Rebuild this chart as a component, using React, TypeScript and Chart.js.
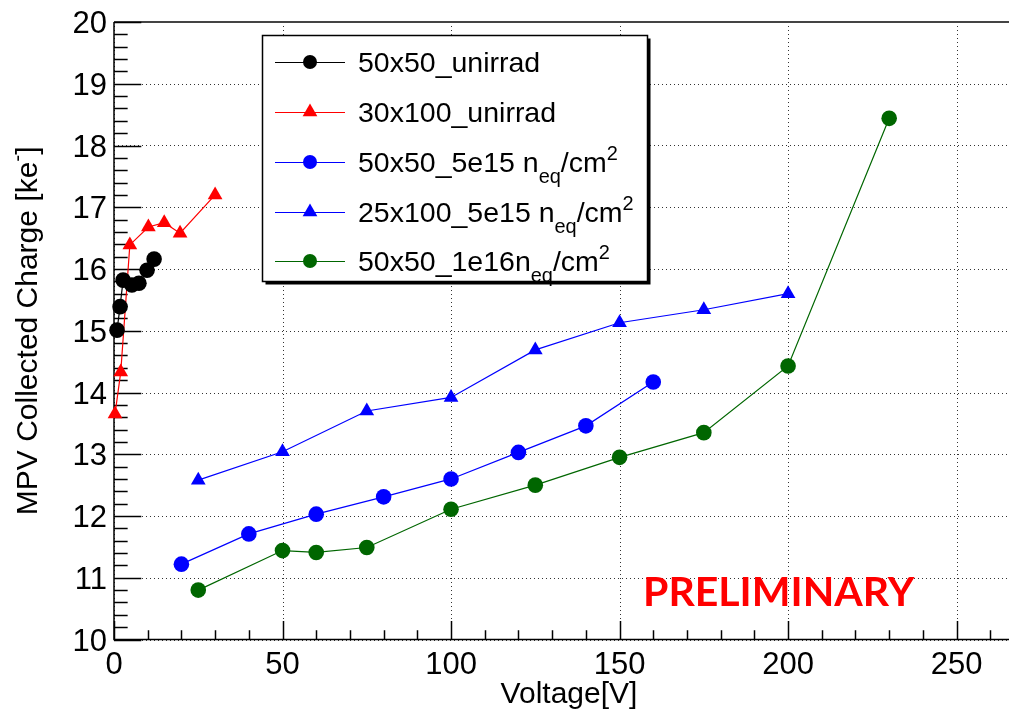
import React, { useEffect, useRef } from 'react';
import { Chart, registerables } from 'chart.js';

Chart.register(...registerables);

// ---------- data ----------
const V_50x50_UNIRRAD = [0.9, 1.8, 2.7, 5.3, 7.4, 9.8, 11.9];
const Q_50x50_UNIRRAD = [15.01, 15.39, 15.82, 15.74, 15.77, 15.98, 16.16];

const V_30x100_UNIRRAD = [0.3, 2, 4.7, 10.2, 14.9, 19.6, 30];
const Q_30x100_UNIRRAD = [13.65, 14.33, 16.39, 16.68, 16.75, 16.58, 17.2];

const V_50x50_5E15 = [20, 40, 60, 80, 100, 120, 140, 160];
const Q_50x50_5E15 = [11.22, 11.71, 12.03, 12.31, 12.6, 13.03, 13.46, 14.17];

const V_25x100_5E15 = [25, 50, 75, 100, 125, 150, 175, 200];
const Q_25x100_5E15 = [12.58, 13.04, 13.7, 13.92, 14.69, 15.13, 15.34, 15.6];

const V_50x50_1E16 = [25, 50, 60, 75, 100, 125, 150, 175, 200, 230];
const Q_50x50_1E16 = [10.8, 11.44, 11.41, 11.49, 12.11, 12.5, 12.95, 13.35, 14.43, 18.44];

const X_MAJOR_TICKS = [0, 50, 100, 150, 200, 250];
const Y_MAJOR_TICKS = [10, 11, 12, 13, 14, 15, 16, 17, 18, 19, 20];
const X_MIN = 0;
const X_MAX = 270;
const Y_MIN = 10;
const Y_MAX = 20;
const X_MINOR_STEP = 10;
const Y_MINOR_STEP = 0.2;

const X_TITLE = 'Voltage[V]';
const WATERMARK = 'PRELIMINARY';

type Part = { t: string; sub?: boolean; sup?: boolean };

const LEGEND_LABELS: Part[][] = [
  [{ t: '50x50_unirrad' }],
  [{ t: '30x100_unirrad' }],
  [{ t: '50x50_5e15 n' }, { t: 'eq', sub: true }, { t: '/cm' }, { t: '2', sup: true }],
  [{ t: '25x100_5e15 n' }, { t: 'eq', sub: true }, { t: '/cm' }, { t: '2', sup: true }],
  [{ t: '50x50_1e16n' }, { t: 'eq', sub: true }, { t: '/cm' }, { t: '2', sup: true }],
];
const Y_TITLE: Part[] = [{ t: 'MPV Collected Charge [ke' }, { t: '-', sup: true }, { t: ']' }];

const SERIES_COLORS = ['#000000', '#ff0000', '#0000ff', '#0000ff', '#006600'];
const SERIES_MARKERS = ['circle', 'triangle', 'circle', 'triangle', 'circle'];

const FONT = "'Liberation Sans', Arial, Helvetica, sans-serif";

function toPoints(xs: number[], ys: number[]) {
  return xs.map((x, i) => ({ x, y: ys[i] }));
}

function drawRich(ctx: CanvasRenderingContext2D, parts: Part[], x: number, y: number, size: number, doDraw = true) {
  let cx = x;
  for (const p of parts) {
    let fs = size;
    let dy = 0;
    if (p.sub) { fs = size * 0.7; dy = size * 0.4; }
    if (p.sup) { fs = size * 0.7; dy = -size * 0.42; }
    ctx.font = `${fs}px ${FONT}`;
    if (doDraw) ctx.fillText(p.t, cx, y + dy);
    cx += ctx.measureText(p.t).width;
  }
  return cx - x;
}

function drawMarker(ctx: CanvasRenderingContext2D, style: string, x: number, y: number, r: number, color: string) {
  ctx.fillStyle = color;
  ctx.beginPath();
  if (style === 'triangle') {
    const rad = Math.PI / 180;
    ctx.moveTo(x, y - r);
    ctx.lineTo(x + Math.sin(120 * rad) * r, y - Math.cos(120 * rad) * r);
    ctx.lineTo(x + Math.sin(240 * rad) * r, y - Math.cos(240 * rad) * r);
    ctx.closePath();
  } else {
    ctx.arc(x, y, r, 0, Math.PI * 2);
  }
  ctx.fill();
}

const rootPlugin = {
  id: 'rootStyle',
  beforeDatasetsDraw(chart: any) {
    const { ctx, chartArea: a } = chart;
    const xs = chart.scales.x;
    const ys = chart.scales.y;
    ctx.save();
    // dotted grid
    ctx.strokeStyle = '#333';
    ctx.lineWidth = 1;
    ctx.setLineDash([1, 3]);
    for (const v of X_MAJOR_TICKS) {
      const px = Math.round(xs.getPixelForValue(v)) + 0.5;
      ctx.beginPath(); ctx.moveTo(px, a.top); ctx.lineTo(px, a.bottom); ctx.stroke();
    }
    for (const v of Y_MAJOR_TICKS) {
      const py = Math.round(ys.getPixelForValue(v)) + 0.5;
      ctx.beginPath(); ctx.moveTo(a.left, py); ctx.lineTo(a.right, py); ctx.stroke();
    }
    ctx.setLineDash([]);
    // frame top
    ctx.strokeStyle = '#444';
    ctx.lineWidth = 2;
    ctx.beginPath(); ctx.moveTo(a.left, a.top); ctx.lineTo(a.right, a.top); ctx.stroke();
    // axes
    ctx.strokeStyle = '#000';
    ctx.lineWidth = 1.5;
    ctx.beginPath(); ctx.moveTo(a.left, a.top); ctx.lineTo(a.left, a.bottom); ctx.lineTo(a.right, a.bottom); ctx.stroke();
    // y ticks (inside)
    ctx.lineWidth = 1.5;
    const yLen = (a.right - a.left) * 0.03;
    for (let v = Y_MIN; v <= Y_MAX + 1e-6; v += Y_MINOR_STEP) {
      const major = Math.abs(v - Math.round(v)) < 1e-6;
      const py = Math.round(ys.getPixelForValue(v)) + 0.5;
      const len = major ? yLen : yLen / 2;
      ctx.beginPath(); ctx.moveTo(a.left, py); ctx.lineTo(a.left + len, py); ctx.stroke();
    }
    // x ticks (inside)
    const xLen = (a.bottom - a.top) * 0.03;
    for (let v = X_MIN; v <= X_MAX + 1e-6; v += X_MINOR_STEP) {
      const major = v % 50 === 0;
      const px = Math.round(xs.getPixelForValue(v)) + 0.5;
      const len = major ? xLen : xLen / 2;
      ctx.beginPath(); ctx.moveTo(px, a.bottom); ctx.lineTo(px, a.bottom - len); ctx.stroke();
    }
    ctx.restore();
  },
  afterDraw(chart: any) {
    const { ctx, chartArea: a } = chart;
    const xs = chart.scales.x;
    const ys = chart.scales.y;
    ctx.save();
    ctx.fillStyle = '#000';
    // tick labels
    ctx.font = `31px ${FONT}`;
    ctx.textBaseline = 'alphabetic';
    ctx.textAlign = 'center';
    for (const v of X_MAJOR_TICKS) {
      ctx.fillText(String(v), xs.getPixelForValue(v), a.bottom + 34);
    }
    ctx.textAlign = 'right';
    for (const v of Y_MAJOR_TICKS) {
      ctx.fillText(String(v), a.left - 7, ys.getPixelForValue(v) + 11);
    }
    // x title
    ctx.font = `30px ${FONT}`;
    ctx.textAlign = 'center';
    ctx.fillText(X_TITLE, (a.left + a.right) / 2, 703);
    // y title
    ctx.textAlign = 'left';
    const w = drawRich(ctx, Y_TITLE, 0, 0, 30, false);
    ctx.save();
    ctx.translate(37, (a.top + a.bottom) / 2);
    ctx.rotate(-Math.PI / 2);
    drawRich(ctx, Y_TITLE, -w / 2, 0, 30, true);
    ctx.restore();

    // legend
    const lx = 262.5, ly = 35.5, lw = 385, lh = 246;
    ctx.fillStyle = '#000';
    ctx.fillRect(lx + 3, ly + 3, lw, lh);
    ctx.fillStyle = '#fff';
    ctx.fillRect(lx, ly, lw, lh);
    ctx.strokeStyle = '#000';
    ctx.lineWidth = 1.5;
    ctx.strokeRect(lx, ly, lw, lh);
    const rows = [62, 112, 162, 212, 261];
    LEGEND_LABELS.forEach((parts, i) => {
      const cy = rows[i];
      const col = SERIES_COLORS[i];
      ctx.strokeStyle = col;
      ctx.lineWidth = 1.2;
      ctx.beginPath(); ctx.moveTo(275, cy + 0.5); ctx.lineTo(345, cy + 0.5); ctx.stroke();
      drawMarker(ctx, SERIES_MARKERS[i], 310, cy, SERIES_MARKERS[i] === 'triangle' ? 8.5 : 7, col);
      ctx.fillStyle = '#000';
      ctx.textAlign = 'left';
      drawRich(ctx, parts, 358, cy + 10, 28.5, true);
    });

    // watermark
    ctx.fillStyle = '#ff0000';
    ctx.font = `bold 41px Lato, 'Liberation Sans', sans-serif`;
    ctx.textAlign = 'left';
    ctx.fillText(WATERMARK, 643, 606);
    ctx.restore();
  },
};

export default function App() {
  const ref = useRef<HTMLCanvasElement | null>(null);
  useEffect(() => {
    if (!ref.current) return;
    const series = [
      { label: '50x50_unirrad', data: toPoints(V_50x50_UNIRRAD, Q_50x50_UNIRRAD) },
      { label: '30x100_unirrad', data: toPoints(V_30x100_UNIRRAD, Q_30x100_UNIRRAD) },
      { label: '50x50_5e15', data: toPoints(V_50x50_5E15, Q_50x50_5E15) },
      { label: '25x100_5e15', data: toPoints(V_25x100_5E15, Q_25x100_5E15) },
      { label: '50x50_1e16', data: toPoints(V_50x50_1E16, Q_50x50_1E16) },
    ];
    const chart = new Chart(ref.current, {
      type: 'scatter',
      data: {
        datasets: series.map((s, i) => ({
          label: s.label,
          data: s.data,
          showLine: true,
          borderColor: SERIES_COLORS[i],
          backgroundColor: SERIES_COLORS[i],
          borderWidth: 1.2,
          pointStyle: SERIES_MARKERS[i] as any,
          pointRadius: SERIES_MARKERS[i] === 'triangle' ? 8.5 : 7.8,
          pointBorderWidth: 0,
          clip: false as any,
        })),
      },
      options: {
        animation: false,
        responsive: false,
        events: [],
        layout: { padding: { left: 114, top: 22, right: 26, bottom: 71.5 } },
        plugins: { legend: { display: false }, tooltip: { enabled: false } },
        scales: {
          x: { type: 'linear', min: X_MIN, max: X_MAX, display: false },
          y: { type: 'linear', min: Y_MIN, max: Y_MAX, display: false },
        },
      },
      plugins: [rootPlugin],
    });
    return () => chart.destroy();
  }, []);
  return (
    <div style={{ position: 'fixed', left: 0, top: 0, width: 1009, height: 711, overflow: 'hidden', background: '#fff' }}>
      <canvas ref={ref} width={1050} height={711} style={{ width: 1050, height: 711, display: 'block' }} />
    </div>
  );
}
